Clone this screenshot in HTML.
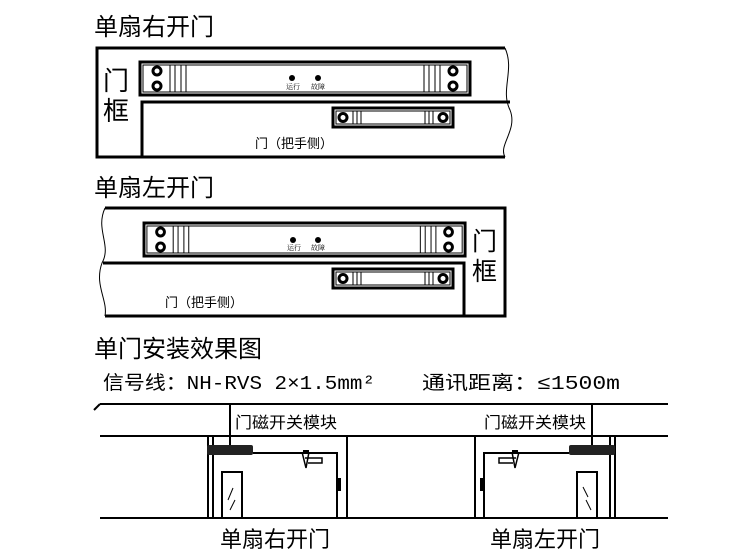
<!DOCTYPE html>
<html><head><meta charset="utf-8"><style>
body{margin:0;background:#fff;}
svg{display:block;font-family:"Liberation Serif","Noto Serif CJK SC","Noto Sans CJK SC",serif;}
.h{font-family:"Liberation Sans","Noto Sans CJK SC",sans-serif;}
.m{font-family:"Liberation Mono","Noto Sans CJK SC",monospace;}
</style></head><body>
<svg width="740" height="560" viewBox="0 0 740 560" xmlns="http://www.w3.org/2000/svg">
<defs>
<g id="mag">
  <rect x="0" y="0" width="330" height="33" fill="none" stroke="#000" stroke-width="3"/>
  <rect x="3" y="3" width="324" height="27" fill="none" stroke="#000" stroke-width="1"/>
  <circle cx="17" cy="9" r="4" fill="none" stroke="#000" stroke-width="3"/>
  <circle cx="17" cy="24" r="4" fill="none" stroke="#000" stroke-width="3"/>
  <circle cx="313" cy="9" r="4" fill="none" stroke="#000" stroke-width="3"/>
  <circle cx="313" cy="24" r="4" fill="none" stroke="#000" stroke-width="3"/>
  <g stroke="#000" stroke-width="1">
    <line x1="30" y1="3" x2="30" y2="30"/><line x1="35" y1="3" x2="35" y2="30"/>
    <line x1="41" y1="3" x2="41" y2="30"/><line x1="46" y1="3" x2="46" y2="30"/>
    <line x1="284" y1="3" x2="284" y2="30"/><line x1="289" y1="3" x2="289" y2="30"/>
    <line x1="295" y1="3" x2="295" y2="30"/><line x1="300" y1="3" x2="300" y2="30"/>
  </g>
</g>
<g id="arm">
  <rect x="0" y="0" width="120" height="19" fill="none" stroke="#000" stroke-width="3"/>
  <rect x="3" y="3" width="114" height="13" fill="none" stroke="#000" stroke-width="1"/>
  <circle cx="10" cy="9.5" r="4" fill="none" stroke="#000" stroke-width="3"/>
  <circle cx="110" cy="9.5" r="4" fill="none" stroke="#000" stroke-width="3"/>
  <g stroke="#000" stroke-width="1">
    <line x1="20" y1="3" x2="20" y2="16"/><line x1="24" y1="3" x2="24" y2="16"/><line x1="28" y1="3" x2="28" y2="16"/>
    <line x1="92" y1="3" x2="92" y2="16"/><line x1="96" y1="3" x2="96" y2="16"/><line x1="100" y1="3" x2="100" y2="16"/>
  </g>
</g>
</defs>

<text x="94" y="35" font-size="24" class="h">单扇右开门</text>
<text x="94" y="196" font-size="24" class="h">单扇左开门</text>
<text x="94" y="357" font-size="24" class="h">单门安装效果图</text>

<!-- Diagram 1 -->
<g fill="none" stroke="#000" stroke-width="3">
  <path d="M505 48 L97 48 L97 157 L505 157"/>
  <path d="M142 157 L142 102 L510 102"/>
</g>
<path d="M505 48 C515 70 500 90 510 110 C518 130 498 145 505 157" fill="none" stroke="#000" stroke-width="1"/>
<text x="103" y="90" font-size="26" class="h">门</text>
<text x="103" y="120" font-size="26" class="h">框</text>
<use href="#mag" x="140" y="62"/>
<circle cx="292" cy="78" r="3" fill="#000"/><circle cx="318" cy="78" r="3" fill="#000"/>
<text x="286" y="89" font-size="7">运行</text><text x="311" y="89" font-size="7">故障</text>
<use href="#arm" x="333" y="108"/>
<text x="255" y="148" font-size="13" class="h">门（把手侧）</text>

<!-- Diagram 2 -->
<g fill="none" stroke="#000" stroke-width="3">
  <path d="M105 208 L505 208 L505 316 L105 316"/>
  <path d="M464 316 L464 263 L103 263"/>
</g>
<path d="M105 208 C95 230 112 245 102 263 C94 285 108 300 105 316" fill="none" stroke="#000" stroke-width="1"/>
<use href="#mag" transform="translate(144 223) scale(0.973 1)"/>
<text x="472" y="250" font-size="25" class="h">门</text>
<text x="472" y="280" font-size="25" class="h">框</text>
<circle cx="293" cy="240" r="3" fill="#000"/><circle cx="318" cy="240" r="3" fill="#000"/>
<text x="287" y="250" font-size="7">运行</text><text x="311" y="250" font-size="7">故障</text>
<use href="#arm" x="333" y="269"/>
<text x="165" y="307" font-size="13" class="h">门（把手侧）</text>

<!-- Bottom section -->
<text x="103" y="389" font-size="19" class="m" textLength="272" lengthAdjust="spacingAndGlyphs">信号线：NH-RVS 2×1.5mm²</text>
<text x="422" y="389" font-size="19" class="m" textLength="198" lengthAdjust="spacingAndGlyphs">通讯距离：≤1500m</text>
<g stroke="#000" stroke-width="2" fill="none">
  <line x1="100" y1="404" x2="668" y2="404"/>
  <line x1="100" y1="404" x2="94" y2="410"/>
  <line x1="100" y1="436" x2="668" y2="436"/>
  <line x1="100" y1="518" x2="668" y2="518"/>
  <line x1="230" y1="404" x2="230" y2="446"/>
  <line x1="592" y1="404" x2="592" y2="446"/>
  <line x1="208" y1="436" x2="208" y2="518"/><line x1="213" y1="436" x2="213" y2="518"/>
  <line x1="347" y1="436" x2="347" y2="518"/>
  <path d="M253 453 L337 453 L337 518"/>
  <rect x="222" y="472" width="20" height="46"/>
  <line x1="475" y1="436" x2="475" y2="518"/>
  <line x1="610" y1="436" x2="610" y2="518"/><line x1="615" y1="436" x2="615" y2="518"/>
  <path d="M569 453 L484 453 L484 518"/>
  <rect x="577" y="472" width="20" height="46"/>
</g>
<g stroke="#000" stroke-width="1">
  <line x1="228" y1="500" x2="233" y2="488"/><line x1="230" y1="510" x2="235" y2="500"/>
  <line x1="583" y1="487" x2="588" y2="497"/><line x1="586" y1="500" x2="591" y2="510"/>
</g>
<rect x="207" y="445" width="46" height="10" fill="#222" rx="2"/>
<rect x="569" y="445" width="46" height="10" fill="#222" rx="2"/>
<rect x="337" y="478" width="4" height="13" fill="#000"/>
<rect x="480" y="478" width="4" height="13" fill="#000"/>
<g fill="none" stroke="#000" stroke-width="1.5">
  <path d="M302 452 L306 468 L309 452 M305 458 L322 458 L322 463 L308 463"/>
  <path d="M519 452 L515 468 L512 452 M516 458 L499 458 L499 463 L513 463"/>
</g>
<rect x="303" y="450" width="6" height="3" fill="#000"/>
<rect x="512" y="450" width="6" height="3" fill="#000"/>
<text x="235" y="428" font-size="16" class="h" textLength="102" lengthAdjust="spacingAndGlyphs">门磁开关模块</text>
<text x="484" y="428" font-size="16" class="h" textLength="102" lengthAdjust="spacingAndGlyphs">门磁开关模块</text>
<text x="220" y="547" font-size="22" class="h" textLength="110" lengthAdjust="spacingAndGlyphs">单扇右开门</text>
<text x="490" y="547" font-size="22" class="h" textLength="110" lengthAdjust="spacingAndGlyphs">单扇左开门</text>
</svg>
</body></html>
